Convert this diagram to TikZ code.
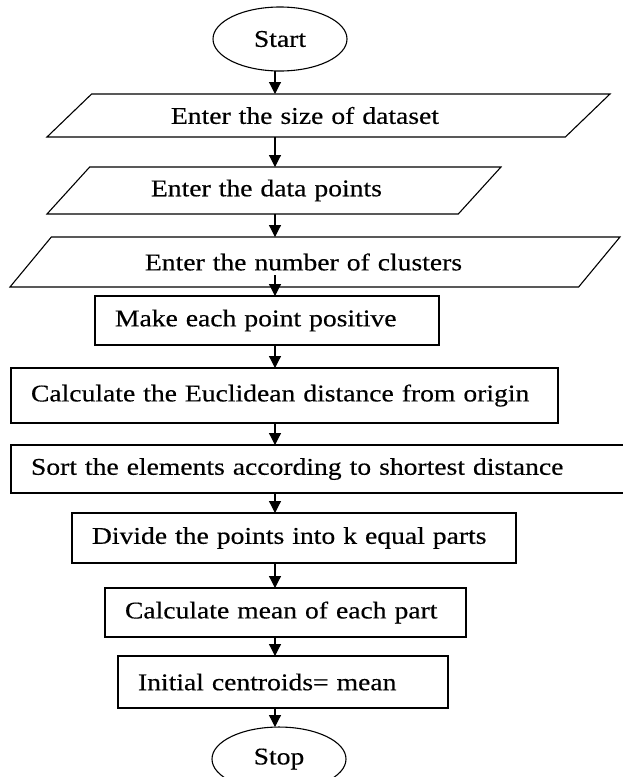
\documentclass[tikz,border=0pt]{standalone}
\usepackage{fontspec}
\setmainfont{Liberation Serif}[FakeStretch=1.15, FakeBold=0.4]
\usetikzlibrary{shapes.geometric,arrows.meta,positioning}

\begin{document}
\begin{tikzpicture}[x=1pt, y=-1pt, line width=1.1pt, font=\fontsize{24}{26}\selectfont]
    \tikzstyle{term} = [ellipse, draw, minimum width=134pt, minimum height=64pt, inner sep=0pt, outer sep=0pt]
    \tikzstyle{io} = [trapezium, draw, trapezium stretches body=true, align=left, inner sep=0pt, outer sep=0pt]
    \tikzstyle{block} = [rectangle, draw, align=left, inner xsep=20pt, inner ysep=0pt, outer sep=0pt]
    \tikzstyle{line} = [draw, -{Triangle[length=12pt, width=12pt]}]

    \useasboundingbox (0,0) rectangle (623,777);

    \node [term] (start) at (280,39) {Start};
    \node [io, below=23pt of start, xshift=48.5pt, trapezium left angle=21, trapezium right angle=159,
           minimum width=563pt, minimum height=43pt, text width=315pt] (size) {Enter the size of dataset};
    \node [io, below=30pt of size, xshift=-54.5pt, trapezium left angle=27, trapezium right angle=153,
           minimum width=454pt, minimum height=47pt, text width=246pt] (points) {Enter the data points};
    \node [io, below=23pt of points, xshift=41pt, trapezium left angle=22.5, trapezium right angle=157.5,
           minimum width=610pt, minimum height=50pt, text width=340pt] (clusters) {Enter the number of clusters};

    \node [block, below=9pt of clusters, xshift=-48pt, text width=304pt, minimum height=49pt] (positive) {Make each point positive};
    \node [block, below=23pt of positive, xshift=17.5pt, text width=507pt, minimum height=55pt] (euclid) {Calculate the Euclidean distance from origin};
    \node [block, below=22pt of euclid, xshift=39pt, text width=585pt, minimum height=48pt] (sort) {Sort the elements according to shortest distance};
    \node [block, below=20pt of sort, xshift=-29.5pt, text width=404pt, minimum height=50pt] (divide) {Divide the points into k equal parts};
    \node [block, below=25pt of divide, xshift=-8.5pt, text width=321pt, minimum height=49pt] (mean) {Calculate mean of each part};
    \node [block, below=19pt of mean, xshift=-2.5pt, text width=290pt, minimum height=52pt] (centroids) {Initial centroids= mean};
    \node [term, below=19pt of centroids, xshift=-4pt] (stop) {Stop};

    \coordinate [xshift=-5pt] (spine) at (start.south);

    \path [line] (start.south -| spine) -- (size.north -| spine);
    \path [line] (size.south -| spine) -- (points.north -| spine);
    \path [line] (points.south -| spine) -- (clusters.north -| spine);
    \path [line] ([yshift=12pt]clusters.south -| spine) -- (positive.north -| spine);
    \path [line] (positive.south -| spine) -- (euclid.north -| spine);
    \path [line] (euclid.south -| spine) -- (sort.north -| spine);
    \path [line] (sort.south -| spine) -- (divide.north -| spine);
    \path [line] (divide.south -| spine) -- (mean.north -| spine);
    \path [line] (mean.south -| spine) -- (centroids.north -| spine);
    \path [line] (centroids.south -| spine) -- (stop.north -| spine);
\end{tikzpicture}
\end{document}
